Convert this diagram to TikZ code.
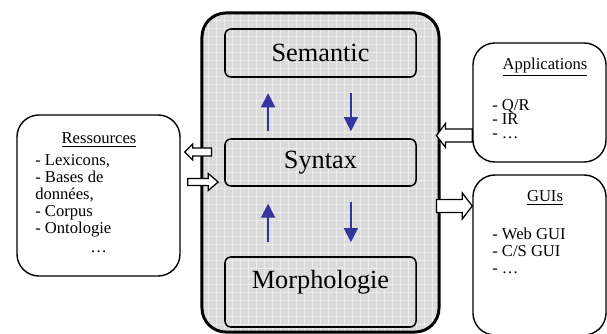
\documentclass[tikz,border=0pt]{standalone}
\usepackage{fontspec}
\setmainfont{Liberation Serif}
\usepackage{tikz}
\usetikzlibrary{arrows.meta, positioning, calc}
\usepackage{xcolor}
\definecolor{flowblue}{HTML}{3434A0}
\definecolor{corefill}{HTML}{DADADA}
\definecolor{coregrid}{HTML}{ECECEC}

% hollow block arrow: tail, tip, half shaft, half head, head length
\newcommand{\hollowarrow}[5]{%
  \draw[hollow] ($(#1)+(0,#3)$) -- ($(#2)!#5!(#1)+(0,#3)$)
    -- ($(#2)!#5!(#1)+(0,#4)$) -- (#2)
    -- ($(#2)!#5!(#1)-(0,#4)$) -- ($(#2)!#5!(#1)-(0,#3)$)
    -- ($(#1)-(0,#3)$) -- cycle;}

\tikzset{
  bigtext/.style={font=\fontsize{18.7}{22}\selectfont},
  smalltext/.style={font=\fontsize{11.8}{12.1}\selectfont},
  layer/.style={draw, line width=1.1pt, rounded corners=0.15cm,
    minimum width=4.775cm, bigtext},
  sidebox/.style={draw, line width=1pt, rounded corners=0.55cm,
    fill=white},
  flow/.style={->, line width=1pt, flowblue},
  hollow/.style={draw, fill=white, line width=0.9pt, line join=miter},
}

\begin{document}
\begin{tikzpicture}[>={Triangle[length=10pt, width=10pt]},
    x=0.025cm, y=-0.025cm]
  \useasboundingbox (0,0) rectangle (607,334);

  % Core with its three layers
  \node[draw, line width=2.1pt, rounded corners=0.6cm, fill=corefill,
    minimum width=5.925cm, minimum height=7.975cm,
    path picture={\draw[coregrid, line width=0.6pt, step=0.2cm]
      (path picture bounding box.south west) grid
      (path picture bounding box.north east);}]
    (core) at (320.5,172.5) {};
  \node[layer, minimum height=1.2cm] (sem) at (320.5,53) {Semantic};
  \node[layer, minimum height=1.175cm] (syn) at (320.5,162.5) {Syntax};
  \node[layer, minimum height=1.75cm, text depth=0.65cm]
    (morph) at (320.5,292) {Morphologie};

  % Up and down between the layers
  \draw[flow, shorten <=5pt, shorten >=11pt]
    ([xshift=-1.31cm]syn.north) -- ([xshift=-1.31cm]sem.south);
  \draw[flow, shorten <=11pt, shorten >=5pt]
    ([xshift=0.76cm]sem.south) -- ([xshift=0.76cm]syn.north);
  \draw[flow, shorten <=10pt, shorten >=12pt]
    ([xshift=-1.31cm]morph.north) -- ([xshift=-1.31cm]syn.south);
  \draw[flow, shorten <=11pt, shorten >=10pt]
    ([xshift=0.76cm]syn.south) -- ([xshift=0.76cm]morph.north);

  % Resources
  \node[sidebox, minimum width=4.075cm, minimum height=4.025cm]
    (res) at (98.5,195.5) {};
  \node[smalltext, anchor=base] (restitle) at (99,144)
    {\underline{Ressources}};
  \node[smalltext, anchor=base west, align=left, inner sep=0pt]
    (reslist) at (35,253)
    {- Lexicons,\\- Bases de\\données,\\- Corpus\\- Ontologie\\[2pt]
     \hspace*{1.375cm}…};

  % Applications
  \node[sidebox, minimum width=3.325cm, minimum height=2.975cm]
    (apps) at (539.5,102.5) {};
  \node[smalltext, anchor=base] (appstitle) at (545,70)
    {\underline{Applications}};
  \node[smalltext, anchor=base west, align=left, inner sep=0pt,
    font=\fontsize{11.8}{10.3}\selectfont]
    (appslist) at (492,139) {- Q/R\\- IR\\- …};

  % GUIs
  \node[sidebox, minimum width=3.325cm, minimum height=4cm]
    (gui) at (539.5,255) {};
  \node[smalltext, anchor=base] (guititle) at (545,202)
    {\underline{GUIs}};
  \node[smalltext, anchor=base west, align=left, inner sep=0pt]
    (guilist) at (492,274) {- Web GUI\\- C/S GUI\\- …};

  % Exchanges with the core
  \coordinate (resin) at ([shift={(0.275cm,0.5125cm)}]core.west);
  \coordinate (resout) at ([shift={(0.1cm,1.0875cm)}]res.east);
  \coordinate (resback) at ([shift={(0.175cm,0.3375cm)}]res.east);
  \coordinate (synin) at ([shift={(-0.15cm,-0.4875cm)}]syn.west);
  \coordinate (appsout) at ([yshift=-0.825cm]apps.west);
  \coordinate (corein) at ([shift={(-0.1cm,0.925cm)}]core.east);
  \coordinate (coreout) at ([shift={(-0.1cm,-0.8375cm)}]core.east);
  \coordinate (guiin) at ([yshift=1.225cm]gui.west);

  \hollowarrow{resin}{resout}{4}{8}{0.2cm}
  \hollowarrow{resback}{synin}{3.5}{8.5}{0.25cm}
  \hollowarrow{appsout}{corein}{6.5}{12}{0.225cm}
  \hollowarrow{coreout}{guiin}{6.5}{13}{0.25cm}
\end{tikzpicture}
\end{document}
